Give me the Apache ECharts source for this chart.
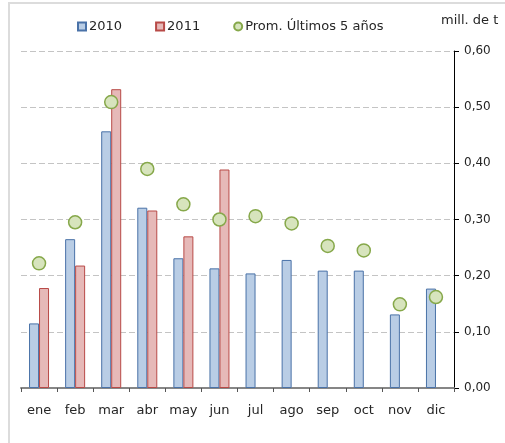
<!DOCTYPE html>
<html>
<head>
<meta charset="utf-8">
<script src="https://cdn.jsdelivr.net/npm/echarts@6/dist/echarts.min.js"></script>
<style>
html,body{margin:0;padding:0;background:#fff;}
#c{width:505px;height:443px;}
</style>
</head>
<body>
<div id="c"></div>
<script>
var months = ['ene','feb','mar','abr','may','jun','jul','ago','sep','oct','nov','dic'];
var s2010 = [0.115,0.265,0.457,0.321,0.231,0.213,0.204,0.228,0.209,0.209,0.131,0.177];
var s2011 = [0.178,0.218,0.532,0.316,0.270,0.389,null,null,null,null,null,null];
var prom5 = [0.222,0.295,0.509,0.390,0.327,0.300,0.306,0.293,0.253,0.245,0.149,0.162];
var yTicks = [0,0.1,0.2,0.3,0.4,0.5,0.6];
var unitLabel = 'mill. de t';

var FONT = 'DejaVu Sans';
var chart = echarts.init(document.getElementById('c'));
chart.setOption({
  animation:false,
  textStyle:{fontFamily:FONT},
  graphic:[
    {type:'rect',shape:{x:9,y:3,width:600,height:600},style:{fill:'none',stroke:'#dcdcdc',lineWidth:2},silent:true},
    {type:'text',left:441,top:14,style:{text:unitLabel,font:'13px "DejaVu Sans"',fill:'#262626'}}
  ],
  legend:{
    left:77, top:20, padding:0, itemWidth:8, itemHeight:8, itemGap:33,
    textStyle:{fontSize:13,color:'#262626',fontFamily:FONT,padding:[0,0,0,-2]},
    data:[
      {name:'2010',icon:'rect'},
      {name:'2011',icon:'rect'},
      {name:'Prom. Últimos 5 años',icon:'circle'}
    ]
  },
  grid:{left:21,right:51,top:51,bottom:55,containLabel:false},
  xAxis:{
    type:'category', data:months,
    axisLine:{lineStyle:{color:'#868686',width:2}},
    axisTick:{show:true,length:4,lineStyle:{color:'#555',width:1}},
    axisLabel:{interval:0,fontSize:13,color:'#262626',margin:16,fontFamily:FONT}
  },
  yAxis:{
    type:'value', position:'right', min:0, max:0.6, interval:0.1,
    axisLine:{show:true,lineStyle:{color:'#000',width:1}},
    axisTick:{show:true,length:5,lineStyle:{color:'#000'}},
    axisLabel:{fontSize:12,color:'#262626',margin:10,fontFamily:FONT,
      formatter:function(v){return v.toFixed(2).replace('.',',');}},
    splitLine:{show:true,lineStyle:{color:'#c4c4c4',type:[6,3],width:1}}
  },
  series:[
    {name:'2010',type:'bar',data:s2010,barWidth:10,barGap:'0%',
     itemStyle:{color:'#b9cde5',borderColor:'#4a72a8',borderWidth:1}},
    {name:'2011',type:'bar',data:s2011,barWidth:10,barGap:'0%',
     itemStyle:{color:'#e6b9b8',borderColor:'#b84a47',borderWidth:1}},
    {name:'Prom. Últimos 5 años',type:'scatter',data:prom5,symbol:'circle',symbolSize:13,z:5,
     itemStyle:{color:'#d7e4bd',borderColor:'#86a84a',borderWidth:1.5,opacity:1}}
  ]
});
</script>
</body>
</html>
